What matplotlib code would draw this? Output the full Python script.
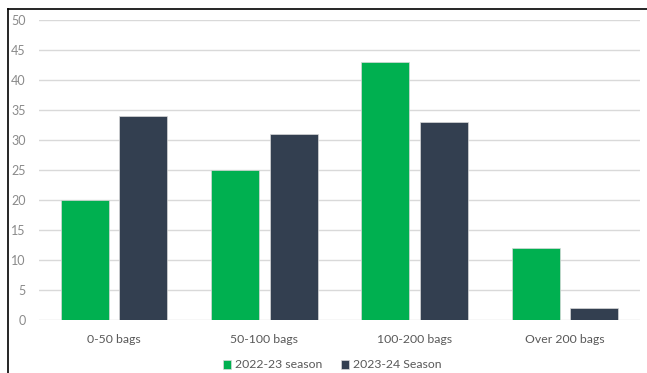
import matplotlib.pyplot as plt
import numpy as np
from matplotlib.lines import Line2D

categories = ['0-50 bags', '50-100 bags', '100-200 bags', 'Over 200 bags']
season_2223 = [20, 25, 43, 12]
season_2324 = [34, 31, 33, 2]

plt.rcParams['font.family'] = ['Lato', 'DejaVu Sans']

fig = plt.figure(figsize=(6.47, 3.73), dpi=100)
ax = fig.add_axes([39 / 647, 53 / 373, 601 / 647, 300 / 373])

x = np.arange(len(categories))
w = 0.32
ax.bar(x - 0.035 - w / 2, season_2223, w, color='#00B050', label='2022-23 season', zorder=3,
       edgecolor='#d8d8d8', linewidth=0.5)
ax.bar(x + 0.035 + w / 2, season_2324, w, color='#333F50', label='2023-24 Season', zorder=3,
       edgecolor='#d8d8d8', linewidth=0.5)

ax.set_xlim(-0.5, 3.5)
ax.set_ylim(0, 50)
ax.set_yticks(range(0, 51, 5))
ax.set_xticks(x)
ax.set_xticklabels(categories)
ax.grid(axis='y', color='#D9D9D9', linewidth=1, zorder=0)
for s in ax.spines.values():
    s.set_visible(False)
ax.tick_params(length=0)
ax.tick_params(axis='y', pad=9.5, labelsize=9, labelcolor='#8a8a8a')
ax.tick_params(axis='x', pad=10, labelsize=8.8, labelcolor='#595959')

fig.legend(loc='center', bbox_to_anchor=(332 / 647, 1 - 365 / 373), ncol=2, frameon=False,
           fontsize=8.8, labelcolor='#595959', handlelength=0.7, handleheight=0.7,
           handletextpad=0.3, columnspacing=1.5)

# frame lines along the top and left edge
fig.add_artist(Line2D([8 / 647, 1], [1 - 9 / 373, 1 - 9 / 373], color='black', lw=1.2))
fig.add_artist(Line2D([8 / 647, 8 / 647], [0, 1 - 9 / 373], color='black', lw=1.2))

fig.savefig('out.png', dpi=100)
